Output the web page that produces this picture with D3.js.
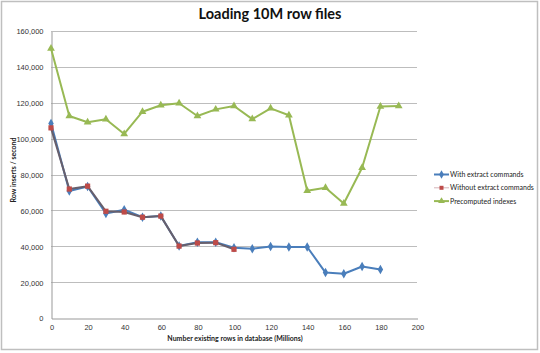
<!DOCTYPE html>
<html>
<head>
<meta charset="utf-8">
<script src="https://cdn.jsdelivr.net/npm/d3@7"></script>
<style>
  body { margin: 0; background: #fff; }
  svg { display: block; font-family: Lato, "Open Sans", sans-serif; }
  .tick text { font-size: 7.5px; fill: #333; }
  .grid line { stroke: #bdbdbd; stroke-width: 1; }
  .legend text { font-size: 7px; fill: #222; }
</style>
</head>
<body>
<svg id="chart" width="540" height="353"></svg>
<script>
// data
let x_vals   = [0, 10, 20, 30, 40, 50, 60, 70, 80, 90, 100, 110, 120, 130, 140, 150, 160, 170, 180, 190];
let with_ext = [108500, 70800, 73300, 58300, 60400, 56200, 56800, 40100, 42200, 42200, 39200, 38600, 39800, 39600, 39600, 25300, 24700, 28700, 27100];
let no_ext   = [106000, 71900, 73500, 59500, 59100, 56200, 56800, 40100, 41800, 42000, 38300];
let precomp  = [150300, 112600, 109100, 110800, 102600, 115000, 118600, 119700, 112600, 116300, 118200, 110900, 116900, 113000, 71000, 72600, 63800, 83800, 117900, 118200];
let series_names = ["With extract commands", "Without extract commands", "Precomputed indexes"];
let y_ticks = [0, 20000, 40000, 60000, 80000, 100000, 120000, 140000, 160000];
let x_ticks = [0, 20, 40, 60, 80, 100, 120, 140, 160, 180, 200];

let svg = d3.select("#chart");
let margin = {top: 31, left: 51, right: 123, bottom: 35},
    width  = 540 - margin.left - margin.right,
    height = 353 - margin.top - margin.bottom;

let x = d3.scaleLinear().domain([0, 200]).range([margin.left, margin.left + width]),
    y = d3.scaleLinear().domain([0, 160000]).range([margin.top + height, margin.top]);

// outer frame
svg.append("rect")
    .attr("x", 1.5).attr("y", 1.5).attr("width", 536).attr("height", 348)
    .attr("fill", "none").attr("stroke", "#bfbfbf").attr("stroke-width", 1.5);

// gridlines
svg.append("g").classed("grid", true)
    .selectAll("line").data(y_ticks.slice(1)).enter()
    .append("line")
    .attr("x1", x(0)).attr("x2", x(200))
    .attr("y1", (d) => Math.round(y(d)) + 0.5).attr("y2", (d) => Math.round(y(d)) + 0.5);

// axes
let fmt = d3.format(",");
let yAxis = svg.append("g")
    .attr("transform", `translate(${x(0) + 0.5}, 0.5)`)
    .call(d3.axisLeft(y).tickValues(y_ticks).tickFormat(fmt).tickSize(0).tickSizeOuter(0));
let xAxis = svg.append("g")
    .attr("transform", `translate(0.5, ${y(0) + 0.5})`)
    .call(d3.axisBottom(x).tickValues(x_ticks).tickSize(0).tickSizeOuter(0));
[yAxis, xAxis].forEach((g) => {
    g.select(".domain").attr("stroke", "#999");
});
yAxis.selectAll(".tick text").attr("x", -8);
xAxis.selectAll(".tick text").attr("y", 6);

// series
let colors = ["#4a7ebb", "#be4b48", "#98b954"];
let line_colors = ["#4a7ebb", "#675f6c", "#98b954"];
let all_series = [with_ext, no_ext, precomp];
let line = d3.line().x((d) => x(d[0])).y((d) => y(d[1]));

function marker(sel, i, size) {
    if (i === 0) sel.append("path").attr("d", d3.symbol(d3.symbolDiamond, size)()).attr("fill", colors[0]);
    else if (i === 1) sel.append("rect").attr("x", -size / 10).attr("y", -size / 10).attr("width", size / 5).attr("height", size / 5).attr("fill", colors[1]);
    else sel.append("path").attr("d", d3.symbol(d3.symbolTriangle, size)()).attr("fill", colors[2]);
}

all_series.forEach((vals, i) => {
    let pts = vals.map((v, k) => [x_vals[k], v]);
    svg.append("path")
        .datum(pts)
        .attr("fill", "none")
        .attr("stroke", line_colors[i])
        .attr("stroke-width", 2)
        .attr("stroke-linejoin", "round")
        .attr("d", line);
    svg.selectAll(null).data(pts).enter()
        .append("g")
        .attr("transform", (d) => `translate(${x(d[0])}, ${y(d[1])})`)
        .each(function() { marker(d3.select(this), i, 26); });
});

// title
svg.append("text")
    .attr("x", 270).attr("y", 19)
    .attr("text-anchor", "middle")
    .style("font-size", "14.5px").style("font-weight", "bold").style("fill", "#111")
    .text("Loading 10M row files");

// axis labels
svg.append("text")
    .attr("transform", "translate(16, 170) rotate(-90)")
    .attr("text-anchor", "middle")
    .style("font-size", "7px").style("font-weight", "bold").style("fill", "#222")
    .text("Row inserts / second");

svg.append("text")
    .attr("x", 235).attr("y", 341)
    .attr("text-anchor", "middle")
    .style("font-size", "7px").style("font-weight", "bold").style("fill", "#222")
    .text("Number existing rows in database  (Millions)");

// legend
let legend = svg.append("g").classed("legend", true);
series_names.forEach((name, i) => {
    let ly = 174.5 + i * 13.3;
    let g = legend.append("g");
    g.append("line")
        .attr("x1", 434).attr("x2", 449)
        .attr("y1", ly).attr("y2", ly)
        .attr("stroke", i === 1 ? "#c9a0a5" : colors[i]).attr("stroke-width", i === 1 ? 0.8 : 2);
    let m = g.append("g").attr("transform", `translate(441.5, ${ly})`);
    marker(m, i, 20);
    g.append("text")
        .attr("x", 450).attr("y", ly + 2.5)
        .text(name);
});
</script>
</body>
</html>
